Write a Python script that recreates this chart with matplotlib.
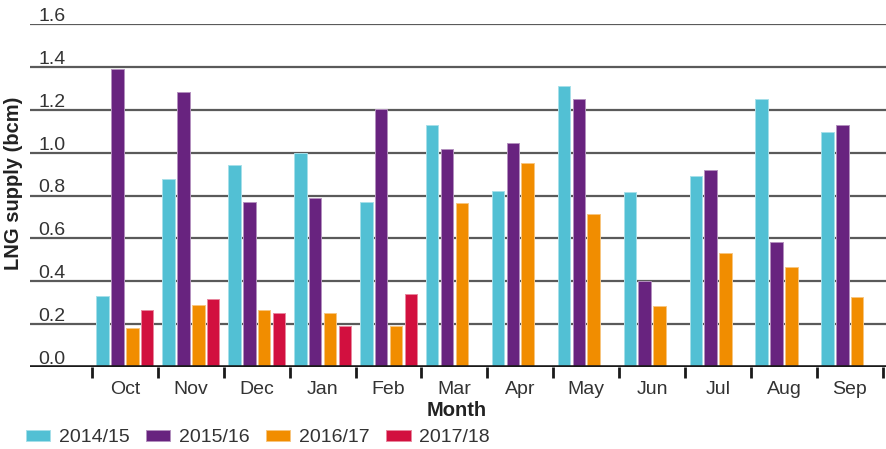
import matplotlib
matplotlib.use("Agg")
import matplotlib.pyplot as plt
import matplotlib.transforms as mtransforms
import numpy as np

plt.rcParams['font.family'] = ['Liberation Sans', 'DejaVu Sans']

months = ["Oct", "Nov", "Dec", "Jan", "Feb", "Mar", "Apr", "May", "Jun", "Jul", "Aug", "Sep"]
series_names = ["2014/15", "2015/16", "2016/17", "2017/18"]
colors = ["#52c0d4", "#68237f", "#f18d00", "#d2103f"]
edge_colors = ["#a6e0ea", "#b491bf", "#f8c680", "#e8879f"]

v2014 = [0.33, 0.875, 0.942, 0.997, 0.768, 1.127, 0.821, 1.311, 0.815, 0.889, 1.25, 1.095]
v2015 = [1.39, 1.283, 0.768, 0.787, 1.203, 1.019, 1.046, 1.25, 0.401, 0.917, 0.583, 1.129]
v2016 = [0.183, 0.29, 0.264, 0.25, 0.19, 0.766, 0.95, 0.712, 0.285, 0.53, 0.468, 0.325]
v2017 = [0.266, 0.319, 0.25, 0.19, 0.339]  # only Oct-Feb so far

y_ticks = [0.0, 0.2, 0.4, 0.6, 0.8, 1.0, 1.2, 1.4, 1.6]

all_series = [v2014, v2015, v2016, v2017]

fig = plt.figure(figsize=(8.86, 4.49), dpi=100)
ax = fig.add_axes([30 / 886, 1 - 367 / 449, 856 / 886, 343 / 449])

pitch = 0.225
bar_w = 0.19
x = np.arange(len(months))
for i, (vals, c, ec) in enumerate(zip(all_series, colors, edge_colors)):
    xs = x[:len(vals)] + (i - 1.5) * pitch
    ax.bar(xs, vals, width=bar_w, color=c, edgecolor=ec, linewidth=0.7,
           label=series_names[i], zorder=3)

ax.set_xlim(-1.441, 11.549)
ax.set_ylim(0, 1.6)

# horizontal grid lines, labels sit just above each line
for v in y_ticks[1:]:
    ax.axhline(v, color="#5a5a5a", lw=1.6, zorder=1)
ax.axhline(0, color="#1a1a1a", lw=2.6, zorder=4)

ax.set_yticks([])
lab_tr = mtransforms.offset_copy(
    mtransforms.blended_transform_factory(ax.transAxes, ax.transData),
    fig=fig, x=0, y=3, units="dots")
for v in y_ticks:
    ax.text(8 / 856, v, f"{v:.1f}", transform=lab_tr, ha="left", va="baseline",
            fontsize=14, color="#333333")

# month labels at centres, tick marks at group boundaries
ax.set_xticks(x)
ax.set_xticklabels(months, fontsize=14, color="#333333")
ax.tick_params(axis="x", which="major", length=0, pad=10)
ax.set_xticks(np.arange(-0.5, 12, 1), minor=True)
ax.tick_params(axis="x", which="minor", length=8, width=2, color="#1a1a1a", direction="out")

for s in ax.spines.values():
    s.set_visible(False)

fig.text(457 / 886, 1 - 411 / 449, "Month", ha="center", va="center",
         fontsize=14.5, fontweight="bold", color="#222222")
fig.text(14 / 886, 1 - 183 / 449, "LNG supply (bcm)", rotation=90, ha="center",
         va="center", fontsize=14.5, fontweight="bold", color="#222222")

fig.legend(loc="center left", bbox_to_anchor=(12 / 886, 1 - 438 / 449), ncol=4, frameon=False,
           fontsize=14, handlelength=1.25, handleheight=0.55, handletextpad=0.45,
           columnspacing=0.85, labelcolor="#333333", borderpad=0.2)

fig.savefig("out.png", dpi=100)
